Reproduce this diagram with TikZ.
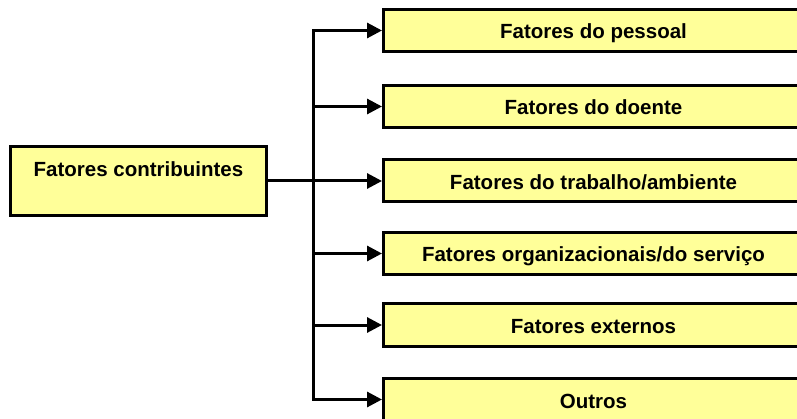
\documentclass[tikz,border=0pt]{standalone}
\usepackage{fontspec}
\setmainfont{Liberation Sans}
\usetikzlibrary{arrows.meta}
\definecolor{boxfill}{HTML}{FFFF99}
\tikzset{
  boxfont/.style={font=\fontsize{20.5}{24}\selectfont\bfseries},
  box/.style={draw=black, line width=3pt, fill=boxfill, inner sep=0pt, boxfont},
  rbox/.style={box, minimum width=480pt, minimum height=42pt},
  rtext/.style={inner sep=0pt, boxfont, text height=17pt, text depth=0pt, xshift=-30pt},
  lbox/.style={box, minimum width=256pt, minimum height=69pt, text height=0pt, text depth=8pt},
  conn/.style={line width=3pt, draw=black},
  arr/.style={conn, -{Triangle[length=15pt,width=15pt]}}
}
\begin{document}
\begin{tikzpicture}[x=1pt,y=-1pt]
\useasboundingbox (0,0) rectangle (797,419);
\node[lbox] (src) at (138.5,181) {Fatores contribuintes};
\node[rbox, label={[rtext]center:Fatores do pessoal}] (b1) at (623.5,30.5) {};
\node[rbox, label={[rtext]center:Fatores do doente}] (b2) at (623.5,106.5) {};
\node[rbox, label={[rtext]center:Fatores do trabalho/ambiente}] (b3) at (623.5,181) {};
\node[rbox, label={[rtext]center:Fatores organizacionais/do serviço}] (b4) at (623.5,253.5) {};
\node[rbox, label={[rtext]center:Fatores externos}] (b5) at (623.5,325) {};
\node[rbox, label={[rtext]center:Outros}] (b6) at (623.5,399.5) {};
\coordinate (tr) at (313,181);
\draw[conn] (src.east) -- (tr);
\foreach \i in {1,...,6} {
  \draw[arr] (tr) |- (b\i.west);
}
\end{tikzpicture}
\end{document}
